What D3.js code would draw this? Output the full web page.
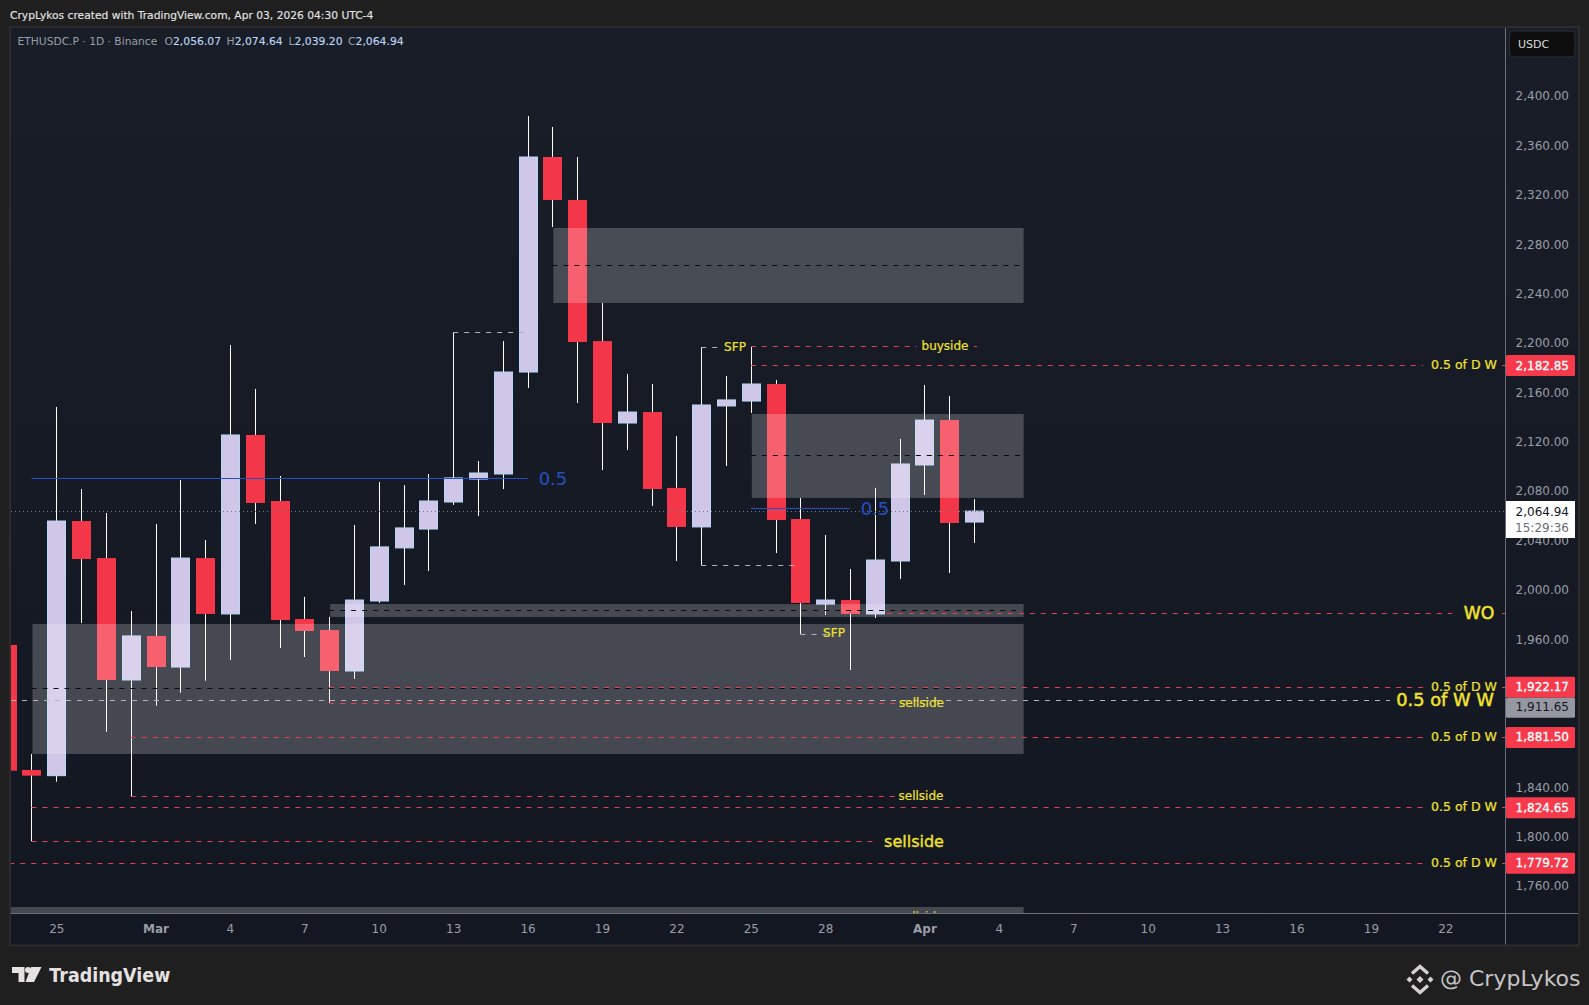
<!DOCTYPE html>
<html>
<head>
<meta charset="utf-8">
<style>
  html, body { margin: 0; padding: 0; background: #1f1f1f; }
  svg { display: block; }
  text { font-family: "DejaVu Sans", sans-serif; }
</style>
<script src="https://cdn.jsdelivr.net/npm/d3@7"></script>
</head>
<body>
<svg></svg>
<script>
// candles
var days = ["2026-02-23","2026-02-24","2026-02-25","2026-02-26","2026-02-27","2026-02-28",
  "2026-03-01","2026-03-02","2026-03-03","2026-03-04","2026-03-05","2026-03-06","2026-03-07",
  "2026-03-08","2026-03-09","2026-03-10","2026-03-11","2026-03-12","2026-03-13","2026-03-14",
  "2026-03-15","2026-03-16","2026-03-17","2026-03-18","2026-03-19","2026-03-20","2026-03-21",
  "2026-03-22","2026-03-23","2026-03-24","2026-03-25","2026-03-26","2026-03-27","2026-03-28",
  "2026-03-29","2026-03-30","2026-03-31","2026-04-01","2026-04-02","2026-04-03"];
var opens = [1956.5,1855.2,1850.6,2056.9,2026.9,1928.1,1963.8,1938.6,2026.9,1981.6,2126.6,2073.1,1977.5,
  1968.6,1935.4,1992.1,2035.1,2050.4,2072.3,2090.9,2095.0,2177.6,2351.8,2317.0,2202.7,2136.3,2145.2,
  2083.7,2052.1,2150.1,2154.1,2167.9,2058.5,1989.6,1992.9,1981.6,2024.5,2102.3,2138.7,2056.07];
var highs = [1956.5,1868.2,2149.3,2082.8,2063.4,1984.0,2054.5,2090.1,2041.5,2199.5,2163.9,2093.4,1995.4,
  1979.2,2053.7,2088.5,2086.0,2095.0,2210.0,2105.5,2202.7,2385.0,2376.1,2351.8,2233.5,2176.0,2167.9,
  2125.8,2197.9,2174.4,2197.9,2171.2,2075.6,2045.6,2018.0,2083.7,2123.4,2167.1,2158.2,2074.64];
var lows = [1854.6,1797.4,1845.7,1974.3,1886.2,1833.9,1907.3,1917.8,1927.5,1944.3,2054.5,1954.0,1946.7,
  1909.7,1929.0,1990.5,2005.1,2016.4,2069.9,2061.0,2082.8,2164.7,2295.1,2152.5,2098.2,2114.4,2069.1,
  2024.5,2021.3,2101.5,2144.4,2031.0,1965.4,1980.8,1936.2,1978.3,2009.9,2078.0,2014.8,2039.20];
var closes = [1854.6,1850.6,2056.9,2026.1,1928.1,1963.8,1938.6,2026.9,1981.6,2126.6,2071.5,1976.7,1967.8,
  1935.4,1992.9,2035.9,2051.3,2073.1,2091.8,2095.8,2177.6,2351.8,2317.0,2201.9,2136.3,2145.2,2082.8,
  2052.1,2150.9,2155.0,2167.9,2057.7,1990.5,1992.9,1981.6,2025.3,2103.1,2138.7,2055.3,2064.94];

// axes
var priceTicks = [2400,2360,2320,2280,2240,2200,2160,2120,2080,2040,2000,1960,1840,1800,1760];
var timeTicks = ["2026-02-25","2026-03-01","2026-03-04","2026-03-07","2026-03-10","2026-03-13","2026-03-16",
  "2026-03-19","2026-03-22","2026-03-25","2026-03-28","2026-04-01","2026-04-04","2026-04-07","2026-04-10",
  "2026-04-13","2026-04-16","2026-04-19","2026-04-22"];
var timeLabels = ["25","Mar","4","7","10","13","16","19","22","25","28","Apr","4","7","10","13","16","19","22"];

// grey supply and demand boxes
var zoneStarts = ["2026-03-17","2026-03-25","2026-03-08","2026-02-24","2026-02-20"];
var zoneEnd = "2026-04-05";
var zoneTops = [2294.3,2143.6,1989.6,1973.5,1744.2];
var zoneBottoms = [2233.5,2075.6,1979.2,1868.2,1725];
var zoneMids = [2264,2110.1,1984.6,1921.4];

// red levels with a price tag on the axis
var tagLevels = [2182.85,1922.17,1881.50,1824.65,1779.72];
var tagStarts = ["2026-03-25","2026-03-08","2026-02-28","2026-02-24","2026-02-20"];

var lastPrice = 2064.94;
var weeklyMid = 1911.65;
var weeklyOpen = 1982.1;
var buysideLevel = 2198.4;
var sellsideLevels = [1909.2,1833.9,1797.4];
var sellsideStarts = ["2026-03-08","2026-02-28","2026-02-24"];
var blueLevels = [2091.5,2067];
var blueStarts = ["2026-02-24","2026-03-25"];
var blueEnds = ["2026-03-16","2026-03-29"];
var greyLevels = [2210,2021];
var greyStarts = ["2026-03-13","2026-03-23"];
var greyEnds = ["2026-03-16","2026-03-27"];
var legendValues = ["2,056.07","2,074.64","2,039.20","2,064.94"];

var width = 1589, height = 1005;
var plot = { left: 11, top: 28, right: 1505.5, bottom: 913.5, outerRight: 1578, outerBottom: 944.5 };
var red = "#f43649", yellow = "#f2e22e", greyLine = "#b2b5be", blue = "#2450c4";

var svg = d3.select("svg").attr("width", width).attr("height", height)
  .attr("viewBox", "0 0 " + width + " " + height);

var parse = d3.utcParse("%Y-%m-%d");
var x = d3.scaleUtc().domain([parse("2026-02-25"), parse("2026-04-22")]).range([56.3, 1445.3]);
var y = d3.scaleLinear().domain([2400, 1760]).range([97.5, 887.5]);
var xd = function (s) { return x(parse(s)); };

var defs = svg.append("defs");
var grad = defs.append("linearGradient").attr("id", "panelBg").attr("x1", 0).attr("y1", 0).attr("x2", 0).attr("y2", 1);
grad.append("stop").attr("offset", 0).attr("stop-color", "#181d28");
grad.append("stop").attr("offset", 1).attr("stop-color", "#131722");
defs.append("clipPath").attr("id", "plotClip").append("rect")
  .attr("x", plot.left).attr("y", plot.top)
  .attr("width", plot.right - plot.left).attr("height", plot.bottom - plot.top);

// page and panel
svg.append("rect").attr("width", width).attr("height", height).attr("fill", "#1f1f1f");
svg.append("rect")
  .attr("x", plot.left - 1).attr("y", plot.top - 1)
  .attr("width", plot.outerRight - plot.left + 2).attr("height", plot.outerBottom - plot.top + 2)
  .attr("fill", "url(#panelBg)").attr("stroke", "#2c2c2e").attr("stroke-width", 2);

var chart = svg.append("g").attr("clip-path", "url(#plotClip)");

// candles
var candles = days.map(function (d, i) {
  return { x: Math.round(xd(d)), o: opens[i], h: highs[i], l: lows[i], c: closes[i] };
});
var candle = chart.append("g").selectAll("g").data(candles).enter().append("g");
candle.append("line")
  .attr("x1", function (d) { return d.x + 0.5; })
  .attr("x2", function (d) { return d.x + 0.5; })
  .attr("y1", function (d) { return y(d.h); })
  .attr("y2", function (d) { return y(d.l); })
  .attr("stroke", "#fff");
candle.append("rect")
  .attr("x", function (d) { return d.c >= d.o ? d.x - 8.5 : d.x - 9; })
  .attr("width", function (d) { return d.c >= d.o ? 18 : 19; })
  .attr("y", function (d) { return y(Math.max(d.o, d.c)); })
  .attr("height", function (d) { return Math.max(1, Math.abs(y(d.o) - y(d.c))); })
  .attr("fill", function (d) { return d.c >= d.o ? "#d0c6e8" : red; })
  .attr("stroke", function (d) { return d.c >= d.o ? "#b5d8f6" : "none"; });

// zones sit on top of the candles
chart.append("g").selectAll("rect").data(zoneStarts).enter().append("rect")
  .attr("x", function (d) { return xd(d) + 1; })
  .attr("width", function (d) { return xd(zoneEnd) - xd(d) - 1; })
  .attr("y", function (d, i) { return y(zoneTops[i]); })
  .attr("height", function (d, i) { return y(zoneBottoms[i]) - y(zoneTops[i]); })
  .attr("fill", "#fff").attr("fill-opacity", 0.21);

function dash(x1, x2, price, color, pattern) {
  chart.append("line")
    .attr("x1", x1).attr("x2", x2)
    .attr("y1", Math.floor(y(price)) + 0.5).attr("y2", Math.floor(y(price)) + 0.5)
    .attr("stroke", color).attr("stroke-dasharray", pattern || "5 6");
}
function label(cx, cy, txt, size, color, heavy) {
  return svg.append("text").attr("x", cx).attr("y", cy)
    .attr("text-anchor", "middle").attr("dominant-baseline", "central")
    .attr("font-size", size)
    .attr("stroke", color).attr("stroke-width", heavy || 0.2)
    .attr("fill", color).text(txt);
}

// midlines of the zones
zoneMids.forEach(function (m, i) {
  dash(xd(zoneStarts[i]), xd(zoneEnd) - 2, m, "#0b0b0f");
});

// grey swing markers and the weekly level
greyLevels.forEach(function (p, i) {
  dash(xd(greyStarts[i]), xd(greyEnds[i]), p, greyLine);
});
dash(plot.left, 1390, weeklyMid, greyLine);
dash(xd("2026-03-23"), 720, 2197.6, greyLine);
dash(xd("2026-03-27"), 828, 1965, greyLine);

// blue 0.5 lines
blueLevels.forEach(function (p, i) {
  chart.append("line")
    .attr("x1", xd(blueStarts[i])).attr("x2", xd(blueEnds[i]))
    .attr("y1", Math.floor(y(p)) + 0.5).attr("y2", Math.floor(y(p)) + 0.5)
    .attr("stroke", blue);
});

// red levels
var redLine = "#e8404f";
tagLevels.forEach(function (p, i) {
  dash(xd(tagStarts[i]), 1423, p, redLine);
  dash(1502, plot.right, p, redLine);
});
dash(xd("2026-03-25"), 917, buysideLevel, redLine);
dash(974, 977, buysideLevel, redLine);
dash(xd("2026-03-30") + 12, 1452, weeklyOpen, redLine);
dash(1502, plot.right, weeklyOpen, redLine);
dash(xd(sellsideStarts[0]), 896, sellsideLevels[0], redLine);
dash(xd(sellsideStarts[1]), 896, sellsideLevels[1], redLine);
dash(xd(sellsideStarts[2]), 875, sellsideLevels[2], redLine);

// last price
dash(plot.left, plot.right, lastPrice, "#787b86", "1 3");

// annotations
label(945, y(buysideLevel), "buyside", 12, yellow);
label(735, y(2197.6), "SFP", 12, yellow);
label(834, y(1966), "SFP", 12, yellow);
label(921.5, y(sellsideLevels[0]), "sellside", 12, yellow);
label(921, y(sellsideLevels[1]), "sellside", 12, yellow);
label(914, y(sellsideLevels[2]), "sellside", 16, yellow, 0.35);
chart.append("text").attr("x", 921).attr("y", 921).attr("text-anchor", "middle")
  .attr("font-size", 12).attr("fill", yellow).text("sellside");
label(553, y(2091.5), "0.5", 18, blue, 0.01);
label(875, y(2067), "0.5", 18, blue, 0.01);
tagLevels.forEach(function (p) {
  label(1464, y(p) - 1, "0.5 of D W", 12.5, yellow);
});
label(1445, y(weeklyMid) - 1, "0.5 of W W", 17.8, yellow, 0.5);
label(1479, y(weeklyOpen), "WO", 17.2, yellow, 0.5);

// axes
var axisColor = "#6c6f7a", tickColor = "#9a9da6";
var yAxis = svg.append("g").attr("transform", "translate(" + plot.right + ",0)")
  .call(d3.axisRight(y).tickValues(priceTicks).tickSize(0).tickFormat(d3.format(",.2f")));
yAxis.select(".domain").remove();
yAxis.selectAll("text")
  .attr("x", 63.5).attr("dy", "0.2em").attr("text-anchor", "end")
  .attr("font-family", "DejaVu Sans").attr("font-size", 12).attr("fill", tickColor);

var xAxis = svg.append("g").attr("transform", "translate(0," + plot.bottom + ")")
  .call(d3.axisBottom(x).tickValues(timeTicks.map(parse)).tickSize(0)
    .tickFormat(function (d, i) { return timeLabels[i]; }));
xAxis.select(".domain").remove();
xAxis.selectAll("text")
  .attr("y", 15).attr("dy", "0.35em")
  .attr("font-family", "DejaVu Sans").attr("font-size", 12).attr("fill", tickColor)
  .attr("font-weight", function (d, i) { return timeLabels[i].length === 3 ? "bold" : "normal"; });

svg.append("line").attr("x1", plot.left).attr("x2", plot.outerRight)
  .attr("y1", plot.bottom).attr("y2", plot.bottom).attr("stroke", axisColor);
svg.append("line").attr("x1", plot.right).attr("x2", plot.right)
  .attr("y1", plot.top).attr("y2", plot.outerBottom).attr("stroke", axisColor);

// price tags
function priceTag(p, fill, color) {
  svg.append("rect").attr("x", plot.right + 0.5).attr("y", y(p) - 10.5)
    .attr("width", 69).attr("height", 21).attr("rx", 1.5).attr("fill", fill);
  svg.append("text").attr("x", 1569).attr("y", y(p)).attr("dy", "0.33em")
    .attr("text-anchor", "end").attr("font-size", 12).attr("fill", color)
    .attr("stroke", color).attr("stroke-width", 0.3)
    .text(d3.format(",.2f")(p));
}
tagLevels.forEach(function (p) { priceTag(p, "#f63a4c", "#fff"); });
svg.append("rect").attr("x", plot.right + 0.5).attr("y", y(weeklyMid) - 2.5)
  .attr("width", 69).attr("height", 20).attr("rx", 1.5).attr("fill", "#9598a1");
svg.append("text").attr("x", 1569).attr("y", y(weeklyMid) + 7).attr("dy", "0.33em")
  .attr("text-anchor", "end").attr("font-size", 12).attr("fill", "#131722")
  .text(d3.format(",.2f")(weeklyMid));

svg.append("rect").attr("x", plot.right + 0.5).attr("y", 501)
  .attr("width", 69).attr("height", 37).attr("fill", "#fff");
svg.append("text").attr("x", 1569).attr("y", 515.5).attr("text-anchor", "end")
  .attr("font-size", 12).attr("fill", "#131722").text(d3.format(",.2f")(lastPrice));
svg.append("text").attr("x", 1569).attr("y", 532).attr("text-anchor", "end")
  .attr("font-size", 12).attr("fill", "#6a6d78").text("15:29:36");

// currency button
svg.append("rect").attr("x", 1509.5).attr("y", 31).attr("width", 65.5).attr("height", 26)
  .attr("rx", 4).attr("fill", "#0e0e0f").attr("stroke", "#2a2e39");
svg.append("text").attr("x", 1518).attr("y", 44.5).attr("dy", "0.35em")
  .attr("font-size", 11).attr("fill", "#dcdcdc").text("USDC");

// header
svg.append("text").attr("x", 10).attr("y", 15).attr("dy", "0.35em")
  .attr("font-size", 10.7).attr("fill", "#e2e2e2").attr("stroke", "#e2e2e2").attr("stroke-width", 0.15)
  .text("CrypLykos created with TradingView.com, Apr 03, 2026 04:30 UTC-4");
svg.append("text").attr("x", 17.5).attr("y", 41.5).attr("dy", "0.35em")
  .attr("font-size", 10.7).attr("fill", "#9a9da6").text("ETHUSDC.P \u00b7 1D \u00b7 Binance");
var legendLetters = ["O", "H", "L", "C"];
var legendX = [164.5, 226.5, 288.5, 348];
legendLetters.forEach(function (l, i) {
  var t = svg.append("text").attr("x", legendX[i]).attr("y", 41.5).attr("dy", "0.35em")
    .attr("font-size", 10.8).attr("fill", "#9a9da6").text(l);
  t.append("tspan").attr("fill", "#bcd4f0").attr("stroke", "#bcd4f0").attr("stroke-width", 0.15).text(legendValues[i]);
});

// footer, TradingView mark
var logo = svg.append("g").attr("fill", "#e6e2e2");
logo.append("path").attr("d", "M12,967H24.5V982H18.5V973H12Z");
logo.append("circle").attr("cx", 28).attr("cy", 970).attr("r", 3);
logo.append("path").attr("d", "M31,967H41.5L34,982H25.5Z");
svg.append("text").attr("x", 49.3).attr("y", 975).attr("dy", "0.35em")
  .attr("font-family", "Inter").attr("font-size", 20).attr("font-weight", 600)
  .attr("textLength", 121).attr("lengthAdjust", "spacingAndGlyphs")
  .attr("fill", "#e6e2e2").text("TradingView");

// footer, Binance mark and handle
var mark = svg.append("g").attr("transform", "translate(1420,979.5)");
mark.append("path").attr("d", "M-8,-6L0,-13L8,-6M-8,6L0,13L8,6")
  .attr("fill", "none").attr("stroke", "#d6d2d4").attr("stroke-width", 3.5);
mark.append("path").attr("d", "M0,-3.5L3.5,0L0,3.5L-3.5,0Z M-10.5,-3L-7.5,0L-10.5,3L-13.5,0Z M10.5,-3L13.5,0L10.5,3L7.5,0Z")
  .attr("fill", "#d6d2d4");
svg.append("text").attr("x", 1440).attr("y", 978).attr("dy", "0.35em")
  .attr("font-family", "Open Sans").attr("font-size", 22).attr("fill", "#c6c4c6").text("@ CrypLykos");
</script>
</body>
</html>
